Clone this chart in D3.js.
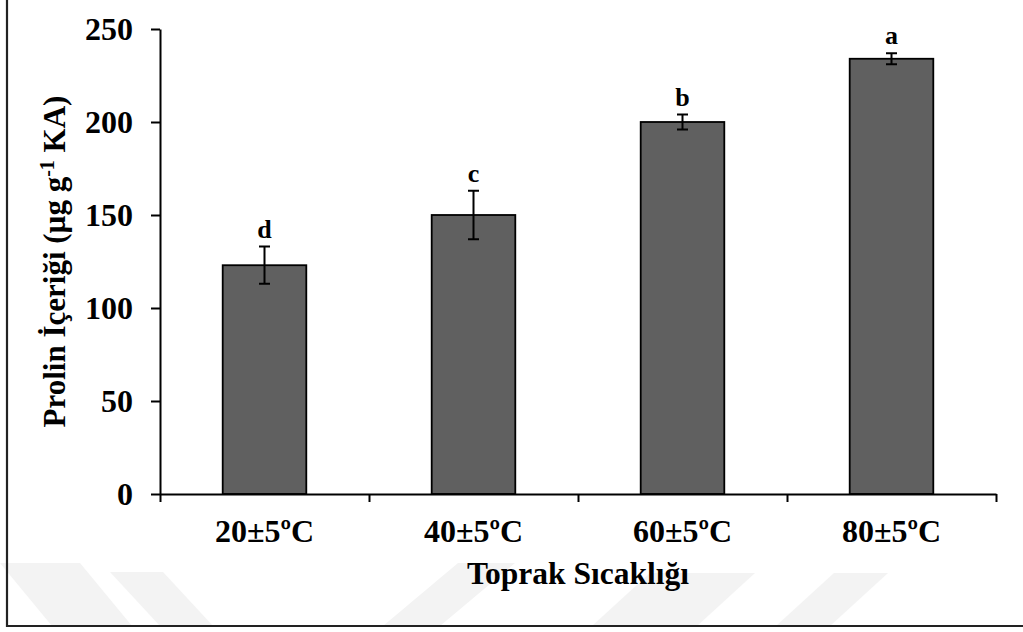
<!DOCTYPE html>
<html>
<head>
<meta charset="utf-8">
<script src="https://cdn.jsdelivr.net/npm/d3@7"></script>
<style>
  html, body { margin: 0; padding: 0; background: #fff; }
  svg { display: block; }
  text { font-family: "Liberation Serif", "Times New Roman", serif; font-weight: bold; fill: #000; }
</style>
</head>
<body>
<svg id="chart" width="1023" height="632"></svg>
<script>
// Proline content by soil temperature
const categories = ["20±5ºC", "40±5ºC", "60±5ºC", "80±5ºC"];
const means = [123, 150, 200, 234];
const errors = [10, 13, 4, 3];
const groups = ["d", "c", "b", "a"];
const yTicks = [0, 50, 100, 150, 200, 250];

const svg = d3.select("#chart");
const W = 1023, H = 632;
const plot = { left: 160, right: 996, top: 29, bottom: 494 };

// faint background stripes
const stripes = [
  [[0, 563], [80, 563], [132, 626], [52, 626]],
  [[110, 572], [163, 572], [213, 626], [160, 626]],
  [[458, 563], [515, 563], [440, 626], [383, 626]],
  [[650, 573], [755, 573], [697, 626], [592, 626]],
  [[834, 573], [888, 573], [830, 626], [776, 626]]
];
svg.append("g").selectAll("polygon").data(stripes).join("polygon")
  .attr("points", d => d.map(p => p.join(",")).join(" "))
  .attr("fill", "#f3f3f3");

// frame (left and bottom edges)
svg.append("path")
  .attr("d", `M7,0 V626 H${W}`)
  .attr("fill", "none").attr("stroke", "#222").attr("stroke-width", 2.2);

const x = d3.scaleBand().domain(categories).range([plot.left, plot.right]).padding(0);
const xEdges = d3.scaleLinear().domain([0, categories.length]).range([plot.left, plot.right]);
const y = d3.scaleLinear().domain([0, 250]).range([plot.bottom, plot.top]);
const barW = x.bandwidth() * 0.4;

// bars
svg.append("g").selectAll("rect").data(categories).join("rect")
  .attr("x", (d) => x(d) + (x.bandwidth() - barW) / 2)
  .attr("y", (d, i) => y(means[i]))
  .attr("width", barW)
  .attr("height", (d, i) => y(0) - y(means[i]))
  .attr("fill", "#606060")
  .attr("stroke", "#000")
  .attr("stroke-width", 1.8);

// error bars
const eb = svg.append("g").attr("stroke", "#000").attr("stroke-width", 2).attr("fill", "none");
categories.forEach((c, i) => {
  const cx = x(c) + x.bandwidth() / 2;
  const hi = y(means[i] + errors[i]), lo = y(means[i] - errors[i]);
  eb.append("path").attr("d", `M${cx},${hi} V${lo} M${cx - 5.5},${hi} H${cx + 5.5} M${cx - 5.5},${lo} H${cx + 5.5}`);
});

// significance letters
svg.append("g").selectAll("text").data(groups).join("text")
  .attr("x", (d, i) => x(categories[i]) + x.bandwidth() / 2)
  .attr("y", (d, i) => y(means[i] + errors[i]) - 9)
  .attr("text-anchor", "middle")
  .style("font-size", "26px")
  .text(d => d);

// y axis
const yAxis = svg.append("g")
  .attr("transform", `translate(${plot.left},0)`)
  .call(d3.axisLeft(y).tickValues(yTicks).tickSize(9).tickSizeOuter(0).tickPadding(18));
yAxis.selectAll("text")
  .style("font-size", "32px")
  .attr("dy", "0.34em");

// x axis: boundary ticks + category labels
const xAxis = svg.append("g")
  .attr("transform", `translate(0,${plot.bottom})`)
  .call(d3.axisBottom(xEdges).ticks(categories.length).tickSize(8).tickSizeOuter(0).tickFormat(""));
const xLabels = svg.append("g")
  .attr("transform", `translate(0,${plot.bottom})`)
  .call(d3.axisBottom(x).tickSize(0).tickSizeOuter(0));
xLabels.select(".domain").remove();
xLabels.selectAll("text")
  .attr("y", 48).attr("dy", 0)
  .style("font-size", "32px");

[yAxis, xAxis].forEach(g => {
  g.selectAll(".domain, .tick line").attr("stroke", "#000").attr("stroke-width", 2);
});
svg.selectAll(".tick text").attr("fill", "#000").style("font-family", "'Liberation Serif', serif").style("font-weight", "bold");

// axis titles
svg.append("text")
  .attr("x", (plot.left + plot.right) / 2)
  .attr("y", 584)
  .attr("text-anchor", "middle")
  .style("font-size", "31.5px")
  .text("Toprak Sıcaklığı");

const yt = svg.append("text")
  .attr("transform", `translate(65,${(plot.top + plot.bottom) / 2}) rotate(-90)`)
  .attr("text-anchor", "middle")
  .style("font-size", "31px");
yt.append("tspan").text("Prolin İçeriği (µg g");
yt.append("tspan").attr("dy", -11).style("font-size", "20px").text("-1");
yt.append("tspan").attr("dy", 11).text(" KA)");
</script>
</body>
</html>
